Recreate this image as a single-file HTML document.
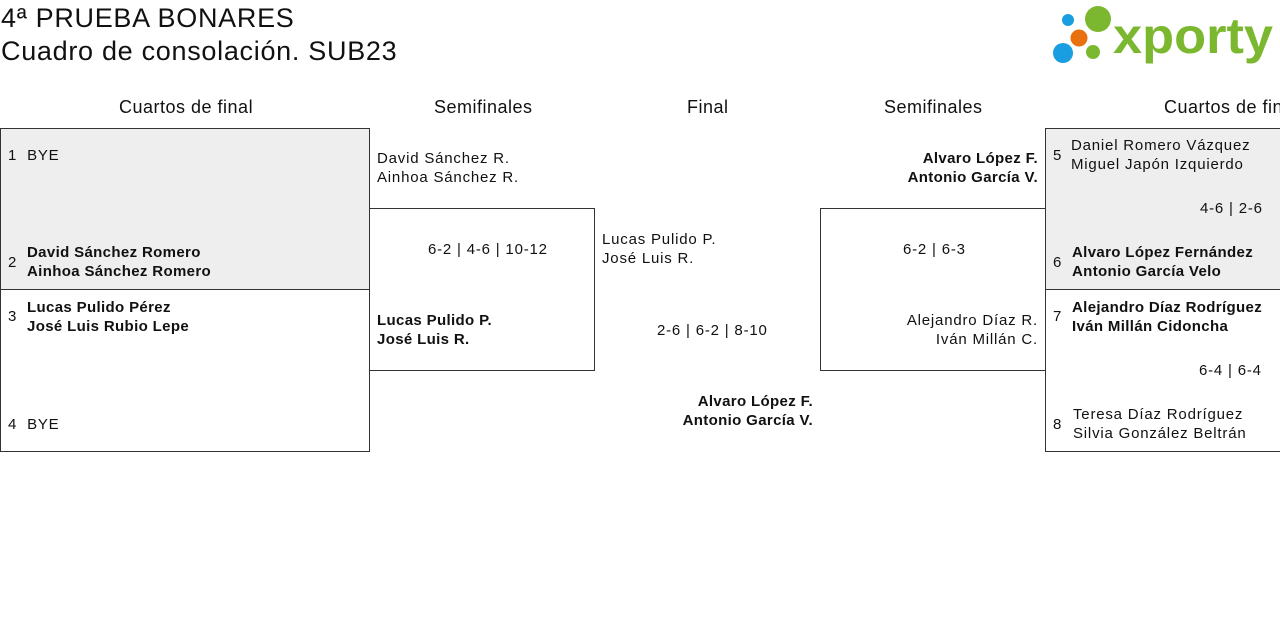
<!DOCTYPE html>
<html><head><meta charset="utf-8"><style>
body{margin:0;width:1280px;height:631px;background:#fff;overflow:hidden;position:relative;font-family:"Liberation Sans",sans-serif;color:#111}
.a{position:absolute;white-space:nowrap}
.t{position:absolute;white-space:nowrap;font-size:15px;line-height:19px;letter-spacing:0.8px}
.b{font-weight:bold;letter-spacing:0.35px}
.r{text-align:right}
.box{position:absolute;border:1px solid #333;box-sizing:border-box}
.h{position:absolute;font-size:18px;line-height:22px;top:96px;white-space:nowrap;letter-spacing:0.5px}
</style></head><body>
<div class="a" style="left:1px;top:2px;font-size:27px;line-height:32px;letter-spacing:0.7px">4ª PRUEBA BONARES</div>
<div class="a" style="left:1px;top:35px;font-size:27px;line-height:32px;letter-spacing:0.7px">Cuadro de consolación. SUB23</div>
<svg class="a" style="left:1050px;top:3px" width="230" height="64" viewBox="0 0 230 64">
<circle cx="18" cy="17" r="6" fill="#1a9ee2"/><circle cx="48" cy="16" r="13" fill="#7cb82f"/>
<circle cx="29" cy="35" r="8.5" fill="#e8700f"/><circle cx="13" cy="50" r="10" fill="#1a9ee2"/>
<circle cx="43" cy="49" r="7" fill="#7cb82f"/>
<text x="63" y="50" font-family="Liberation Sans,sans-serif" font-weight="bold" font-size="50" fill="#7cb82f" textLength="160" lengthAdjust="spacingAndGlyphs">xporty</text>
</svg>
<div class="h" style="left:119px">Cuartos de final</div>
<div class="h" style="left:434px">Semifinales</div>
<div class="h" style="left:687px">Final</div>
<div class="h" style="left:884px">Semifinales</div>
<div class="h" style="left:1164px">Cuartos de final</div>

<div class="box" style="left:0;top:128px;width:370px;height:162px;background:#eee"></div>
<div class="box" style="left:0;top:289px;width:370px;height:163px"></div>
<div class="box" style="left:369px;top:208px;width:226px;height:163px"></div>
<div class="box" style="left:820px;top:208px;width:226px;height:163px"></div>
<div class="box" style="left:1045px;top:128px;width:240px;height:162px;background:#eee"></div>
<div class="box" style="left:1045px;top:289px;width:240px;height:163px"></div>

<div class="t" style="left:8px;top:146px">1&nbsp; BYE</div>
<div class="t" style="left:8px;top:253px">2</div>
<div class="t b" style="left:27px;top:243px">David Sánchez Romero<br>Ainhoa Sánchez Romero</div>
<div class="t" style="left:8px;top:307px">3</div>
<div class="t b" style="left:27px;top:298px">Lucas Pulido Pérez<br>José Luis Rubio Lepe</div>
<div class="t" style="left:8px;top:415px">4&nbsp; BYE</div>

<div class="t" style="left:377px;top:149px">David Sánchez R.<br>Ainhoa Sánchez R.</div>
<div class="t" style="left:428px;top:240px">6-2 | 4-6 | 10-12</div>
<div class="t b" style="left:377px;top:311px">Lucas Pulido P.<br>José Luis R.</div>

<div class="t" style="left:602px;top:230px">Lucas Pulido P.<br>José Luis R.</div>
<div class="t" style="left:657px;top:321px">2-6 | 6-2 | 8-10</div>
<div class="t b r" style="right:467px;top:392px">Alvaro López F.<br>Antonio García V.</div>

<div class="t b r" style="right:242px;top:149px">Alvaro López F.<br>Antonio García V.</div>
<div class="t" style="left:903px;top:240px">6-2 | 6-3</div>
<div class="t r" style="right:242px;top:311px">Alejandro Díaz R.<br>Iván Millán C.</div>

<div class="t" style="left:1053px;top:146px">5</div>
<div class="t" style="left:1071px;top:136px">Daniel Romero Vázquez<br>Miguel Japón Izquierdo</div>
<div class="t" style="left:1200px;top:199px">4-6 | 2-6</div>
<div class="t" style="left:1053px;top:253px">6</div>
<div class="t b" style="left:1072px;top:243px">Alvaro López Fernández<br>Antonio García Velo</div>
<div class="t" style="left:1053px;top:307px">7</div>
<div class="t b" style="left:1072px;top:298px">Alejandro Díaz Rodríguez<br>Iván Millán Cidoncha</div>
<div class="t" style="left:1199px;top:361px">6-4 | 6-4</div>
<div class="t" style="left:1053px;top:415px">8</div>
<div class="t" style="left:1073px;top:405px">Teresa Díaz Rodríguez<br>Silvia González Beltrán</div>
</body></html>
